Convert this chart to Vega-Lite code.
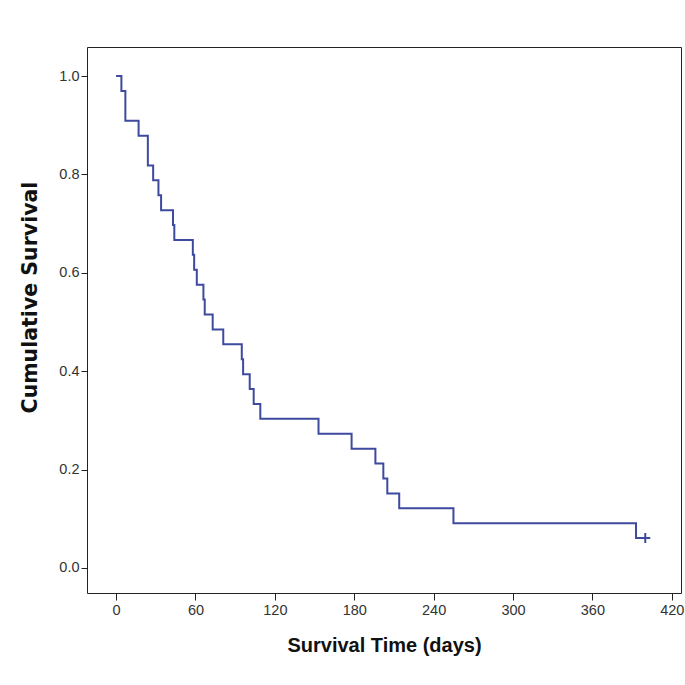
{
  "$schema": "https://vega.github.io/schema/vega-lite/v6.json",
  "width": 594,
  "height": 546,
  "autosize": {"type": "none"},
  "padding": {"left": 87, "top": 47, "right": 4, "bottom": 92},
  "background": "white",
  "config": {
    "view": {"stroke": "#222222", "strokeWidth": 1},
    "font": "Liberation Sans"
  },
  "datasets": {
    "km": [
      {"time": 0, "surv": 1.0},
      {"time": 4, "surv": 0.9697},
      {"time": 7, "surv": 0.9091},
      {"time": 17, "surv": 0.8788},
      {"time": 24, "surv": 0.8182},
      {"time": 28, "surv": 0.7879},
      {"time": 32, "surv": 0.7576},
      {"time": 34, "surv": 0.7273},
      {"time": 43, "surv": 0.6970},
      {"time": 44, "surv": 0.6667},
      {"time": 58, "surv": 0.6364},
      {"time": 59, "surv": 0.6061},
      {"time": 61, "surv": 0.5758},
      {"time": 66, "surv": 0.5455},
      {"time": 67, "surv": 0.5152},
      {"time": 73, "surv": 0.4848},
      {"time": 81, "surv": 0.4545},
      {"time": 95, "surv": 0.4242},
      {"time": 96, "surv": 0.3939},
      {"time": 101, "surv": 0.3636},
      {"time": 104, "surv": 0.3333},
      {"time": 109, "surv": 0.3030},
      {"time": 153, "surv": 0.2727},
      {"time": 178, "surv": 0.2424},
      {"time": 196, "surv": 0.2121},
      {"time": 202, "surv": 0.1818},
      {"time": 205, "surv": 0.1515},
      {"time": 214, "surv": 0.1212},
      {"time": 255, "surv": 0.0909},
      {"time": 393, "surv": 0.0606},
      {"time": 400, "surv": 0.0606}
    ],
    "censor": [
      {"time": 400, "surv": 0.0606}
    ]
  },
  "layer": [
    {
      "data": {"name": "km"},
      "mark": {"type": "line", "interpolate": "step-after", "color": "#3d4a9e", "strokeWidth": 2},
      "encoding": {
        "x": {
          "field": "time", "type": "quantitative",
          "scale": {"domain": [-22, 427], "nice": false, "zero": false},
          "axis": {
            "title": "Survival Time (days)",
            "values": [0, 60, 120, 180, 240, 300, 360, 420],
            "domain": false, "grid": false,
            "tickColor": "#222222", "tickSize": 7, "tickWidth": 1,
            "labelFontSize": 14.5, "labelColor": "#333333", "labelPadding": 3,
            "titleFontSize": 20, "titleFontWeight": "bold", "titleColor": "#111111",
            "titlePadding": 19
          }
        },
        "y": {
          "field": "surv", "type": "quantitative",
          "scale": {"domain": [-0.051, 1.059], "nice": false, "zero": false},
          "axis": {
            "title": "Cumulative Survival",
            "values": [0, 0.2, 0.4, 0.6, 0.8, 1.0],
            "format": ".1f",
            "domain": false, "grid": false,
            "tickColor": "#222222", "tickSize": 6, "tickWidth": 1,
            "labelFontSize": 14.5, "labelColor": "#333333", "labelPadding": 2,
            "titleFont": "DejaVu Sans",
            "titleFontSize": 20.5, "titleFontWeight": "bold", "titleColor": "#111111",
            "titlePadding": 18,
            "titleY": 250
          }
        }
      }
    },
    {
      "data": {"name": "censor"},
      "mark": {"type": "point", "shape": "M-1,0H1M0,-1V1", "size": 100, "filled": false, "color": "#3d4a9e", "strokeWidth": 2, "opacity": 1},
      "encoding": {
        "x": {"field": "time", "type": "quantitative"},
        "y": {"field": "surv", "type": "quantitative"}
      }
    }
  ]
}
